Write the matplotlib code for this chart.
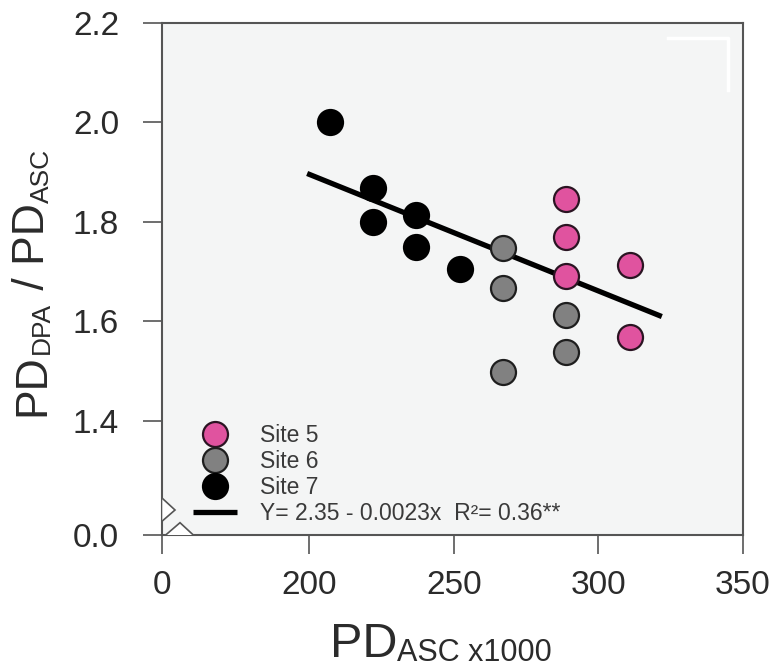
import numpy as np
import matplotlib
matplotlib.use("Agg")
import matplotlib.pyplot as plt
from matplotlib.patches import Polygon
from matplotlib.font_manager import FontProperties

plt.rcParams['font.family'] = ['Liberation Sans', 'DejaVu Sans']

# ---- data ----
site5_x = [289, 289, 289, 311, 311]
site5_y = [1.846, 1.769, 1.690, 1.713, 1.569]
site6_x = [267, 267, 267, 289, 289]
site6_y = [1.748, 1.667, 1.498, 1.613, 1.538]
site7_x = [207, 222, 222, 237, 237, 252]
site7_y = [2.000, 1.868, 1.799, 1.813, 1.749, 1.705]
fit_intercept = 2.35
fit_slope = -0.0023
fit_range = [197, 322]
x_ticks = [0, 200, 250, 300, 350]
x_ticklabels = ['0', '200', '250', '300', '350']
y_ticks = [0.0, 1.4, 1.6, 1.8, 2.0, 2.2]
y_ticklabels = ['0.0', '1.4', '1.6', '1.8', '2.0', '2.2']
legend_labels = ['Site 5', 'Site 6', 'Site 7', 'Y= 2.35 - 0.0023x  R\u00b2= 0.36**']

# broken-axis scale functions
XB, XGAP = 200.0, 50.9
YB, YGAP = 1.4, 0.2297

def fx(x):
    x = np.asarray(x, dtype=float)
    return np.where(x >= XB, x, XB - (XB - x) * XGAP / XB)

def fx_inv(u):
    u = np.asarray(u, dtype=float)
    return np.where(u >= XB, u, XB - (XB - u) * XB / XGAP)

def fy(y):
    y = np.asarray(y, dtype=float)
    return np.where(y >= YB, y, YB - (YB - y) * YGAP / YB)

def fy_inv(u):
    u = np.asarray(u, dtype=float)
    return np.where(u >= YB, u, YB - (YB - u) * YB / YGAP)

W, H = 776, 667
fig = plt.figure(figsize=(W / 100, H / 100), dpi=100)
L, R, T, B = 162.3, 742.7, 22.7, 535.0
ax = fig.add_axes([L / W, 1 - B / H, (R - L) / W, (B - T) / H])
ax.set_xscale('function', functions=(fx, fx_inv))
ax.set_yscale('function', functions=(fy, fy_inv))
ax.set_xlim(0, 350)
ax.set_ylim(0, 2.2)
ax.set_facecolor('#f4f5f5')

spine_c = '#555555'
for s in ax.spines.values():
    s.set_color(spine_c)
    s.set_linewidth(1.5)

# regression line
fx_line = np.array(fit_range, dtype=float)
line, = ax.plot(fx_line, fit_intercept + fit_slope * fx_line, color='black',
                lw=3.8, solid_capstyle='butt', zorder=2)

ms, mew, ec = 18, 1.6, '#1e1e1e'
h5, = ax.plot(site5_x, site5_y, 'o', ms=ms, mfc='#e0539f', mec='#2a1422', mew=mew, zorder=3)
h6, = ax.plot(site6_x, site6_y, 'o', ms=ms, mfc='#818181', mec=ec, mew=mew, zorder=3)
h7, = ax.plot(site7_x, site7_y, 'o', ms=ms, mfc='#000000', mec='#000000', mew=mew, zorder=3)

ax.set_xticks(x_ticks)
ax.set_xticklabels(x_ticklabels)
ax.set_yticks(y_ticks)
ax.set_yticklabels(y_ticklabels)
ax.minorticks_off()
ax.tick_params(axis='both', direction='out', length=14, width=1.2, color=spine_c,
               labelsize=24, labelcolor='#2b2b2b')
ax.tick_params(axis='x', pad=11)
ax.tick_params(axis='y', pad=17)

leg = ax.legend([h5, h6, h7, line], legend_labels, loc='center left',
                bbox_to_anchor=(0.0536, 0.118), frameon=False, fontsize=16.5,
                borderpad=0, borderaxespad=0, handlelength=1.9, handletextpad=1.0,
                labelspacing=0.12, handleheight=0.7)
for t in leg.get_texts():
    t.set_color('#3a3a3a')

# axis-break marks
axw, axh = R - L, B - T
def af(px, py):
    return ((px - L) / axw, (B - py) / axh)
brk1 = Polygon([af(162.3, 498.3), af(175, 510), af(162.3, 521)], closed=False,
               facecolor='white', edgecolor=spine_c, lw=1.2, transform=ax.transAxes,
               clip_on=False, zorder=4)
brk2 = Polygon([af(165.7, 535), af(180, 522.7), af(193.3, 535)], closed=False,
               facecolor='white', edgecolor=spine_c, lw=1.2, transform=ax.transAxes,
               clip_on=False, zorder=4)
ax.add_patch(brk1)
ax.add_patch(brk2)
# faint white corner mark (top right)
ax.plot([af(668, 38)[0], af(728, 38)[0], af(728, 38)[0]],
        [af(668, 38)[1], af(728, 38)[1], af(728, 90)[1]],
        color='white', lw=2.5, transform=ax.transAxes, zorder=1)

# composed axis labels (main text + smaller subscript)
renderer = fig.canvas.get_renderer()

def text_w(s, size):
    fp = FontProperties(family=['Liberation Sans'], size=size)
    w, h, d = renderer.get_text_width_height_descent(s, fp, ismath=False)
    return w

lab_c = '#2b2b2b'

# x label
x0, yb = 330.0, H - 657.0
for s, sz, dy in [('PD', 35, 0), ('ASC x1000', 22, -4)]:
    fig.text(x0 / W, (yb + dy) / H, s, fontsize=sz, color=lab_c, ha='left', va='baseline')
    x0 += text_w(s, sz)

# y label (rotated)
xb, y0 = 44.0, H - 416.0
for s, sz, dx in [('PD', 32, 0), ('DPA', 19, 5), (' / PD', 32, 0), ('ASC', 19, 5)]:
    fig.text((xb + dx) / W, y0 / H, s, fontsize=sz, color=lab_c, rotation=90,
             rotation_mode='anchor', ha='left', va='baseline')
    y0 += text_w(s, sz)

fig.savefig('out.png', dpi=100)
